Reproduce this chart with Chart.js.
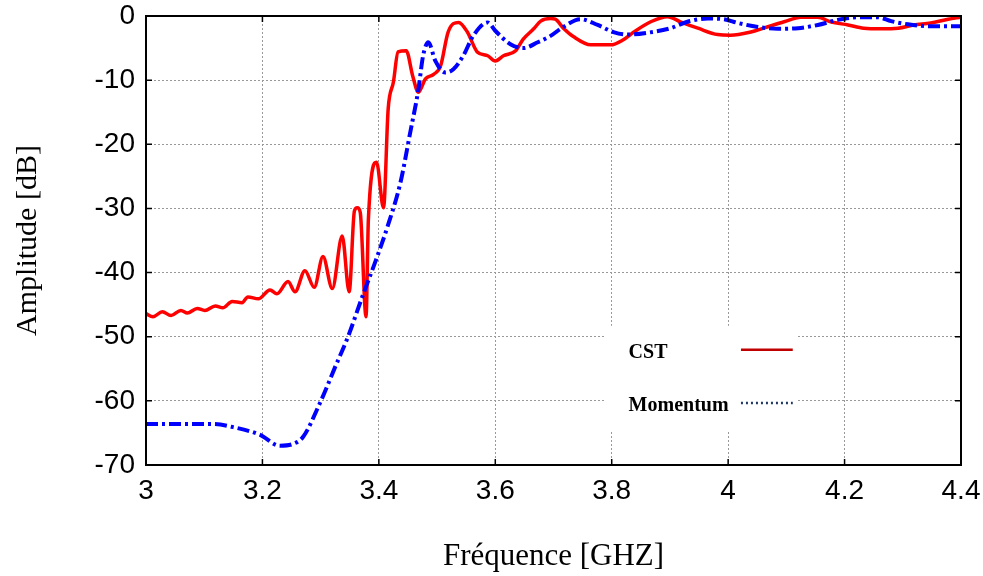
<!DOCTYPE html>
<html>
<head>
<meta charset="utf-8">
<script src="https://cdn.jsdelivr.net/npm/chart.js@4.4.0/dist/chart.umd.min.js"></script>
<style>
  body { margin: 0; background: #fff; }
  canvas { display: block; }
</style>
</head>
<body>
<canvas id="chart" width="983" height="576"></canvas>
<script>
// tick labels
const freqTicks = [3, 3.2, 3.4, 3.6, 3.8, 4, 4.2, 4.4];
const ampTicks = [0, -10, -20, -30, -40, -50, -60, -70];

// CST (red)
const cstFreq = [3.000, 3.012, 3.028, 3.043, 3.060, 3.071, 3.088, 3.101, 3.119, 3.132,
  3.148, 3.165, 3.175, 3.193, 3.213, 3.225, 3.244, 3.256, 3.273, 3.289,
  3.304, 3.320, 3.337, 3.349, 3.358, 3.363, 3.368, 3.378, 3.382, 3.396, 3.408,
  3.416, 3.425, 3.433, 3.447, 3.458, 3.468, 3.480, 3.494, 3.506, 3.519,
  3.537, 3.552, 3.569, 3.587, 3.600, 3.614, 3.635, 3.648, 3.666, 3.678,
  3.695, 3.703, 3.717, 3.734, 3.764, 3.798, 3.820, 3.838, 3.867, 3.896,
  3.918, 3.948, 3.982, 4.004, 4.039, 4.061, 4.096, 4.125, 4.154, 4.176,
  4.206, 4.233, 4.262, 4.292, 4.319, 4.348, 4.378, 4.400];
const cstAmp = [-46.4, -46.9, -46.1, -46.7, -45.9, -46.3, -45.6, -45.9, -45.2, -45.5,
  -44.5, -44.7, -43.8, -44.1, -42.7, -43.3, -41.4, -43.0, -39.7, -42.3,
  -37.5, -42.5, -34.3, -43.0, -30.4, -29.9, -30.6, -46.9, -31.7, -22.8, -29.9,
  -14.5, -10.3, -5.6, -5.4, -9.3, -11.9, -9.8, -9.1, -7.8, -2.5,
  -1.0, -2.5, -5.6, -6.2, -7.0, -6.2, -5.4, -3.6, -2.0, -0.8,
  -0.4, -0.5, -1.9, -3.2, -4.5, -4.5, -3.7, -2.5, -0.9, -0.1,
  -0.9, -1.9, -2.9, -3.0, -2.5, -1.9, -0.9, -0.2, -0.2, -0.9,
  -1.4, -1.9, -2.0, -1.9, -1.4, -1.1, -0.5, -0.2];

// Momentum (blue)
const momFreq = [3.000, 3.115, 3.150, 3.196, 3.230, 3.253, 3.270, 3.299, 3.325, 3.347,
  3.373, 3.394, 3.415, 3.437, 3.454, 3.468, 3.476, 3.485, 3.497, 3.514,
  3.528, 3.545, 3.562, 3.587, 3.600, 3.626, 3.648, 3.673, 3.695, 3.717,
  3.746, 3.776, 3.803, 3.827, 3.862, 3.901, 3.930, 3.965, 3.992, 4.017,
  4.051, 4.085, 4.120, 4.154, 4.188, 4.223, 4.257, 4.280, 4.309, 4.348,
  4.395, 4.400];
const momAmp = [-63.6, -63.6, -64.1, -65.3, -67.0, -66.7, -65.6, -60.3, -54.7, -50.0,
  -43.4, -38.3, -32.8, -26.0, -18.1, -11.4, -6.2, -4.1, -7.0, -8.8,
  -8.3, -6.2, -3.1, -1.0, -2.3, -4.4, -5.0, -4.1, -3.1, -1.7,
  -0.5, -1.4, -2.5, -2.9, -2.6, -1.9, -0.9, -0.4, -0.5, -1.1,
  -1.7, -2.0, -1.9, -1.4, -0.6, -0.2, -0.2, -0.8, -1.3, -1.6,
  -1.6, -1.6];

const seriesNames = ['CST', 'Momentum'];

function toPoints(xs, ys) {
  return xs.map((x, i) => ({ x: x, y: ys[i] }));
}

// white box behind the legend, then the legend itself
const legendBox = {
  id: 'legendBox',
  beforeDatasetsDraw(chart) {
    const ctx = chart.ctx;
    const xs = chart.scales.x, ys = chart.scales.y;
    const x1 = xs.getPixelForValue(3.79), x2 = xs.getPixelForValue(4.119);
    const y1 = ys.getPixelForValue(-48.3), y2 = ys.getPixelForValue(-64.8);
    ctx.save();
    ctx.fillStyle = '#fff';
    ctx.fillRect(x1, y1, x2 - x1, y2 - y1);
    ctx.restore();
  },
  afterDraw(chart) {
    const ctx = chart.ctx;
    const xs = chart.scales.x, ys = chart.scales.y;
    const tx = xs.getPixelForValue(3.829);
    const lx1 = xs.getPixelForValue(4.022), lx2 = xs.getPixelForValue(4.111);
    const rows = [ys.getPixelForValue(-52.2), ys.getPixelForValue(-60.5)];
    ctx.save();
    ctx.font = 'bold 20px "Liberation Serif"';
    ctx.fillStyle = '#000';
    ctx.textBaseline = 'middle';
    ctx.fillText(seriesNames[0], tx, rows[0] + 2);
    ctx.fillText(seriesNames[1], tx, rows[1] + 2);
    ctx.lineWidth = 2.5;
    ctx.strokeStyle = '#c00000';
    ctx.beginPath(); ctx.moveTo(lx1, rows[0] - 1); ctx.lineTo(lx2, rows[0] - 1); ctx.stroke();
    ctx.strokeStyle = '#1f3864';
    ctx.setLineDash([2, 3]);
    ctx.beginPath(); ctx.moveTo(lx1, rows[1] - 1); ctx.lineTo(lx2, rows[1] - 1); ctx.stroke();
    ctx.restore();
  }
};

// black frame with small inward ticks
const frame = {
  id: 'frame',
  afterDatasetsDraw(chart) {
    const ctx = chart.ctx;
    const a = chart.chartArea;
    const xs = chart.scales.x, ys = chart.scales.y;
    ctx.save();
    ctx.strokeStyle = '#000';
    ctx.lineWidth = 1.5;
    ctx.beginPath();
    freqTicks.forEach(v => {
      const p = xs.getPixelForValue(v);
      ctx.moveTo(p, a.bottom); ctx.lineTo(p, a.bottom - 6);
      ctx.moveTo(p, a.top); ctx.lineTo(p, a.top + 6);
    });
    ampTicks.forEach(v => {
      const p = ys.getPixelForValue(v);
      ctx.moveTo(a.left, p); ctx.lineTo(a.left + 6, p);
      ctx.moveTo(a.right, p); ctx.lineTo(a.right - 6, p);
    });
    ctx.stroke();
    ctx.lineWidth = 2;
    ctx.strokeRect(a.left, a.top, a.right - a.left, a.bottom - a.top);
    ctx.restore();
  }
};

new Chart(document.getElementById('chart'), {
  type: 'scatter',
  data: {
    datasets: [{
      label: seriesNames[1],
      data: toPoints(momFreq, momAmp),
      showLine: true,
      borderColor: '#0000ff',
      borderWidth: 4,
      borderDash: [12, 4, 3, 4],
      pointRadius: 0,
      cubicInterpolationMode: 'monotone'
    }, {
      label: seriesNames[0],
      data: toPoints(cstFreq, cstAmp),
      showLine: true,
      borderColor: '#ff0000',
      borderWidth: 3.5,
      pointRadius: 0,
      cubicInterpolationMode: 'monotone'
    }]
  },
  options: {
    responsive: false,
    animation: false,
    layout: { padding: { top: 16, right: 22, left: 0, bottom: 0 } },
    plugins: { legend: { display: false }, tooltip: { enabled: false } },
    scales: {
      x: {
        type: 'linear',
        min: 3, max: 4.4,
        afterBuildTicks: s => { s.ticks = freqTicks.map(v => ({ value: v })); },
        afterFit: s => { s.height = 111; s.paddingLeft = 0; s.paddingRight = 0; },
        grid: { color: '#999', drawTicks: false },
        border: { display: false, dash: [2, 2] },
        ticks: {
          padding: 9,
          color: '#000',
          font: { family: '"Liberation Sans"', size: 28 },
          callback: v => String(Number(v.toFixed(1)))
        },
        title: {
          display: true,
          text: 'Fréquence [GHZ]',
          color: '#000',
          font: { family: '"Liberation Serif"', size: 31 },
          padding: { top: 4, bottom: 1 }
        }
      },
      y: {
        min: -70, max: 0,
        afterBuildTicks: s => { s.ticks = ampTicks.map(v => ({ value: v })); },
        afterFit: s => { s.width = 146; s.paddingTop = 0; s.paddingBottom = 0; },
        grid: { color: '#999', drawTicks: false },
        border: { display: false, dash: [2, 2] },
        ticks: {
          padding: 11,
          color: '#000',
          font: { family: '"Liberation Sans"', size: 28 }
        },
        title: {
          display: true,
          text: 'Amplitude [dB]',
          color: '#000',
          font: { family: '"Liberation Serif"', size: 30 },
          padding: { top: 10, bottom: 0 }
        }
      }
    }
  },
  plugins: [legendBox, frame]
});
</script>
</body>
</html>
